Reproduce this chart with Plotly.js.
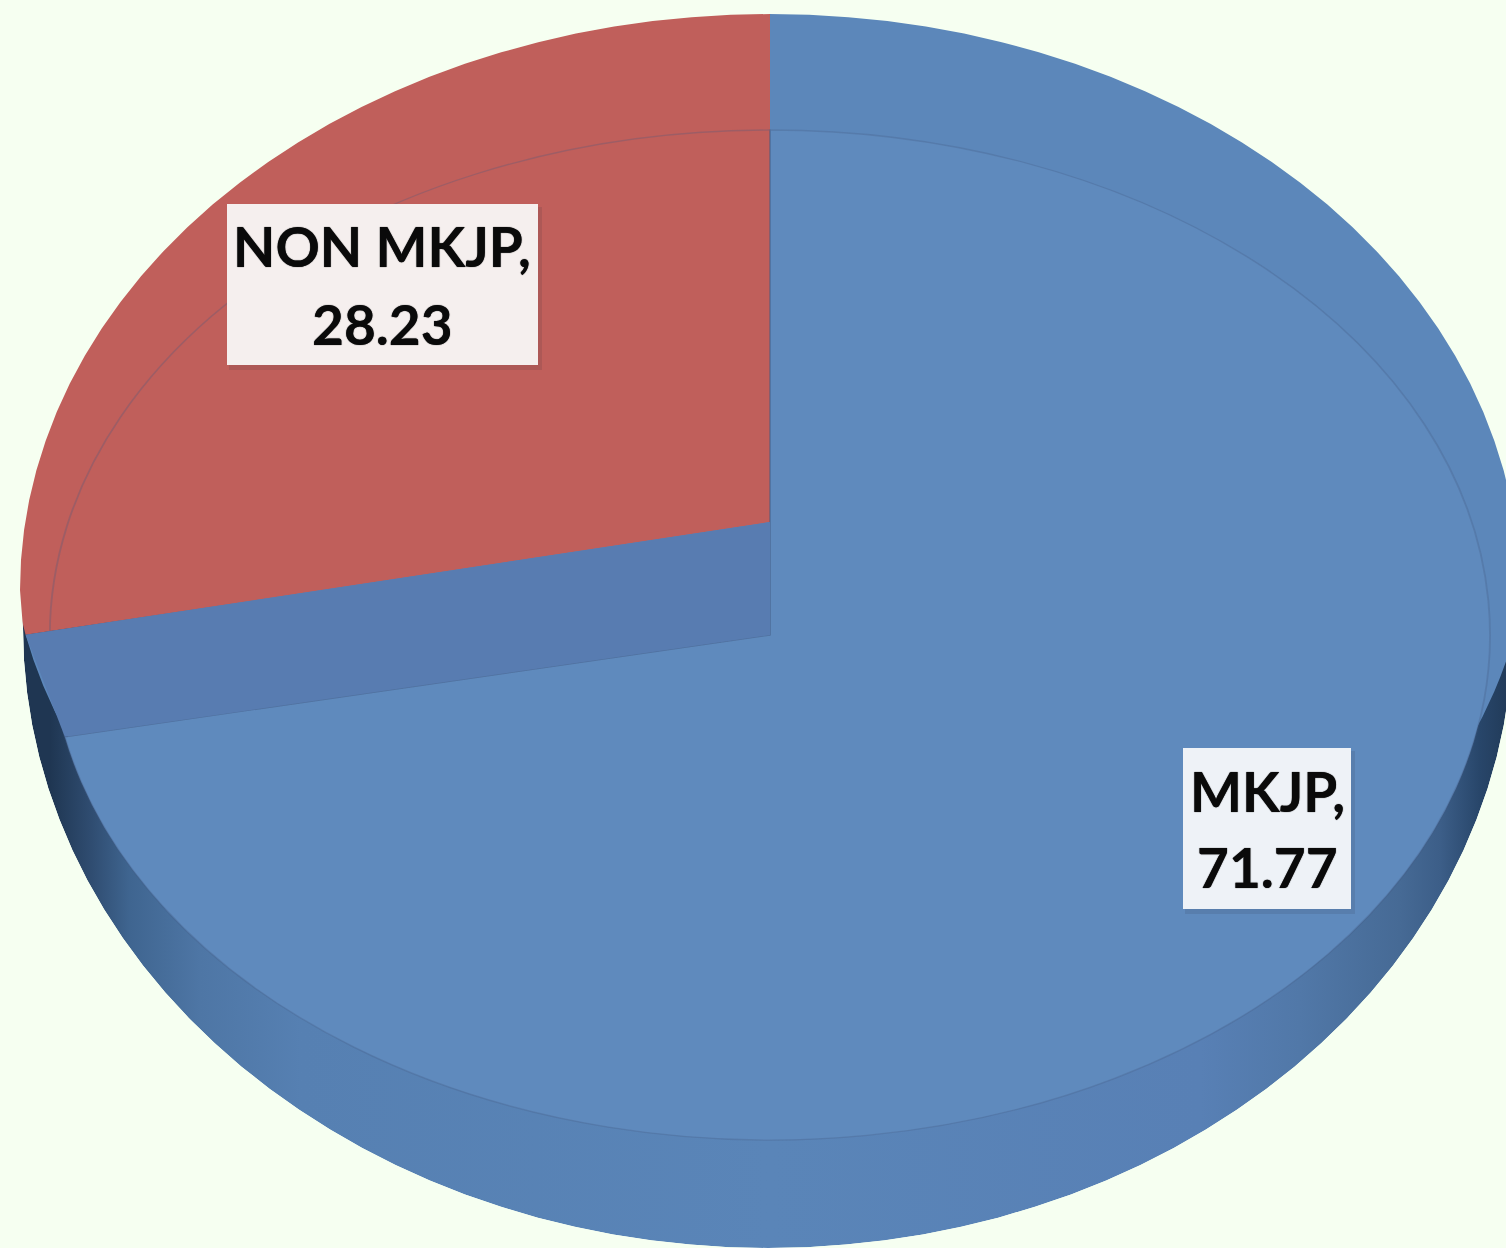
<!DOCTYPE html>
<html><head><meta charset="utf-8">
<script src="https://cdn.plot.ly/plotly-3.0.1.min.js"></script>
<style>html,body{margin:0;padding:0;background:#f6fff1;overflow:hidden}#chart{width:1506px;height:1248px}</style>
</head><body><div id="chart"></div>
<script>
// ---- data
const categories = ['MKJP', 'NON MKJP'];
const values = [71.77, 28.23];
// ---- styling
const upperColors = ['#5c87ba', '#c05f5b'];
const surfaceColors = ['#5f8abd', 'rgba(0,0,0,0)'];
const wallColor = '#587cb1';
const paper = '#f6fff1';
const rimStops = [[0,'#1f3652'],[0.02,'#1f3652'],[0.047,'#2f4c70'],[0.073,'#3f6590'],[0.12,'#4e76a5'],[0.187,'#5680b2'],[0.5,'#5a85b8'],[0.787,'#5880b5'],[0.853,'#5178a8'],[0.92,'#466a95'],[0.947,'#3c5e88'],[0.973,'#28466a'],[1,'#1f3652']];
// ellipses in picture units
const W = 1506, H = 1248;
const upper = {cx:770, cy:522, rx:760, ry:560};
const surface = {cx:770, cy:635, rx:720, ry:505};
const outlineTop = {cx:770, cy:590, rx:750, ry:576};
const outlineBottom = {cx:768, cy:628, rx:745, ry:620};
const labelBoxes = [
  {x0:1183, x1:1351, y0:748, y1:909, fill:'#eef2f7', tx:1267, ty:[791,867]},
  {x0:227, x1:538, y0:204, y1:365, fill:'#f5efee', tx:382, ty:[246,324]}
];

// outline of the whole disc: upper half of one ellipse, lower half of the other
function outline() {
  const xs = [], ys = [];
  for (let a = 180; a <= 360; a += 3) {
    const t = a * Math.PI / 180;
    xs.push(outlineTop.cx + outlineTop.rx * Math.cos(t));
    ys.push(outlineTop.cy + outlineTop.ry * Math.sin(t));
  }
  for (let a = 0; a <= 180; a += 3) {
    const t = a * Math.PI / 180;
    xs.push(outlineBottom.cx + outlineBottom.rx * Math.cos(t));
    ys.push(outlineBottom.cy + outlineBottom.ry * Math.sin(t));
  }
  return {xs, ys};
}
const o = outline();
let discPath = '';
o.xs.forEach((x, i) => { discPath += (i ? 'L' : 'M') + x.toFixed(1) + ',' + o.ys[i].toFixed(1); });
discPath += 'Z';
const maskPath = `M-60,-60L${W+60},-60L${W+60},${H+60}L-60,${H+60}Z` + discPath;

// edge of the slice that steps down from the upper level to the surface
const total = values.reduce((a, b) => a + b, 0);
const turn = 2 * Math.PI * values[0] / total;
const rim = e => [e.cx + e.rx * Math.sin(turn), e.cy - e.ry * Math.cos(turn)];
const pA = rim(upper), pB = rim(surface);
const wallPath = `M${upper.cx},${upper.cy}L${surface.cx},${surface.cy}L${pB[0]},${pB[1]}L${pA[0]},${pA[1]}Z`;

const pieBase = {type:'pie', labels:categories, values:values, sort:false, direction:'clockwise', rotation:0,
  textinfo:'none', showlegend:false, hoverinfo:'label+value', domain:{x:[0.05,0.95], y:[0,1]}};

const traces = [
  {type:'scatter', mode:'lines', x:o.xs, y:o.ys, fill:'toself', line:{width:0, color:'rgba(0,0,0,0)'},
   fillgradient:{type:'horizontal', colorscale:rimStops}, showlegend:false, hoverinfo:'skip'},
  Object.assign({}, pieBase, {marker:{colors:upperColors, line:{width:0}}}),
  Object.assign({}, pieBase, {marker:{colors:surfaceColors, line:{width:1.6, color:'rgba(70,90,130,0.28)'}}})
];

const shapes = [
  {type:'path', layer:'above', xref:'x', yref:'y', path:wallPath, fillcolor:wallColor, line:{width:0}},
  {type:'path', layer:'above', xref:'x', yref:'y', path:maskPath, fillcolor:paper, fillrule:'evenodd', line:{width:0}}
];
const annotations = [];
labelBoxes.forEach((b, i) => {
  shapes.push({type:'rect', layer:'above', xref:'x', yref:'y', x0:b.x0+2, x1:b.x1+4, y0:b.y0+3, y1:b.y1+5,
    fillcolor:'rgba(40,40,60,0.12)', line:{width:0}});
  shapes.push({type:'rect', layer:'above', xref:'x', yref:'y', x0:b.x0, x1:b.x1, y0:b.y0, y1:b.y1,
    fillcolor:b.fill, line:{width:0}});
  [categories[i] + ',', String(values[i])].forEach((t, j) => {
    annotations.push({xref:'x', yref:'y', x:b.tx, y:b.ty[j], text:'<b>' + t + '</b>', showarrow:false,
      xanchor:'center', yanchor:'middle',
      font:{family:'Lato, "Open Sans", sans-serif', size:55, color:'#0a0a0a', shadow:'0 0 1px #111'}});
  });
});

const layout = {
  width:W, height:H, margin:{l:0,r:0,t:0,b:0,pad:0}, paper_bgcolor:paper, plot_bgcolor:paper,
  xaxis:{visible:false, range:[0,W], fixedrange:true},
  yaxis:{visible:false, range:[H,0], fixedrange:true},
  shapes, annotations, showlegend:false
};

Plotly.newPlot('chart', traces, layout, {displayModeBar:false}).then(gd => {
  // Plotly pies are round: tilt each one into its ellipse
  const R = H / 2, px = W / 2, py = H / 2;
  const groups = gd.querySelectorAll('.pielayer .trace');
  [upper, surface].forEach((e, i) => {
    const sx = e.rx / R, sy = e.ry / R;
    groups[i].setAttribute('transform',
      `matrix(${sx},0,0,${sy},${e.cx - px * sx},${e.cy - py * sy})`);
  });
});
</script></body></html>
